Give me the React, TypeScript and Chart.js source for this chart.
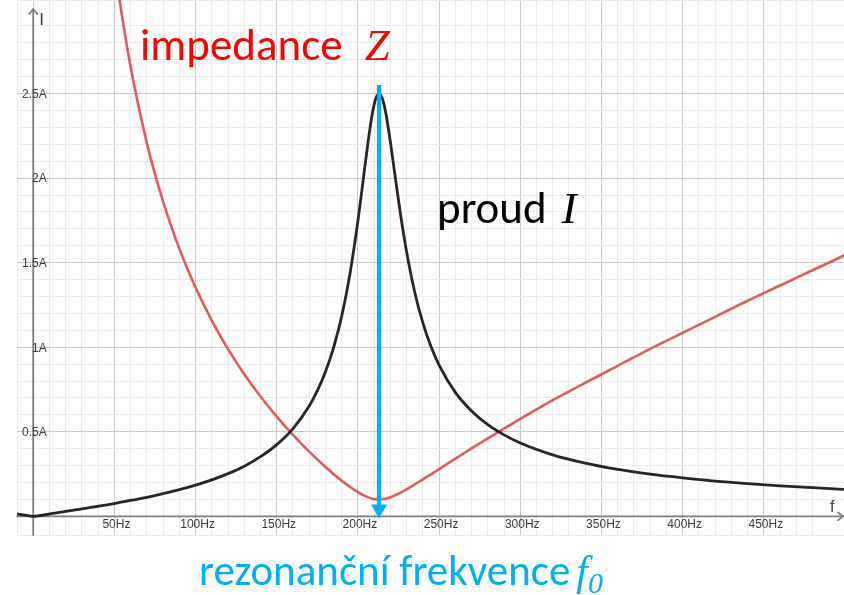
import React, { useEffect, useRef } from "react";
import { Chart, registerables } from "chart.js";

Chart.register(...registerables);

// ---------- data ----------
const freqI = [-10, -5, 0, 10, 20, 30, 40, 50, 60, 70, 80, 90, 100, 110, 120, 130, 140, 150, 160, 170, 175, 180, 185, 190, 195, 200, 203, 206, 209, 211, 213, 215, 217, 220, 223, 226, 230, 235, 240, 245, 250, 260, 270, 280, 290, 300, 320, 340, 360, 380, 400, 420, 440, 460, 480, 500];
const currentI = [0.0145, 0.0072, 0, 0.0145, 0.029, 0.044, 0.06, 0.076, 0.094, 0.113, 0.134, 0.158, 0.185, 0.216, 0.253, 0.297, 0.353, 0.424, 0.519, 0.653, 0.743, 0.855, 0.998, 1.183, 1.429, 1.747, 1.97, 2.196, 2.389, 2.471, 2.5, 2.472, 2.393, 2.213, 2.005, 1.801, 1.563, 1.325, 1.144, 1.004, 0.894, 0.733, 0.623, 0.542, 0.482, 0.434, 0.364, 0.315, 0.278, 0.25, 0.228, 0.209, 0.194, 0.181, 0.17, 0.16];

const freqZ = [45, 50, 55, 60, 70, 80, 90, 100, 110, 120, 130, 140, 150, 160, 170, 175, 180, 185, 190, 195, 200, 203, 206, 209, 211, 213, 215, 217, 220, 223, 226, 230, 235, 240, 245, 250, 260, 270, 280, 290, 300, 320, 340, 360, 380, 400, 420, 440, 460, 480, 500];
const impedanceZ = [3.675, 3.27, 2.94, 2.657, 2.207, 1.861, 1.583, 1.353, 1.158, 0.989, 0.841, 0.709, 0.59, 0.482, 0.383, 0.337, 0.292, 0.251, 0.211, 0.175, 0.143, 0.127, 0.114, 0.105, 0.101, 0.1, 0.101, 0.1045, 0.113, 0.125, 0.139, 0.16, 0.189, 0.219, 0.249, 0.28, 0.341, 0.402, 0.461, 0.519, 0.576, 0.687, 0.79, 0.89, 0.99, 1.085, 1.18, 1.275, 1.365, 1.455, 1.545];

const xTickValues = [50, 100, 150, 200, 250, 300, 350, 400, 450];
const yTickValues = [0.5, 1, 1.5, 2, 2.5];
const xAxisName = "f";
const yAxisName = "I";

const resonanceFreq = 213;
const arrowTop = 2.55;
const arrowBottom = 0;

const X_MIN = -10;
const X_MAX = 499.4;
const Y_MIN = -0.11;
const Y_MAX = 3.053;

// ---------- styles ----------
const MAJOR_GRID = "#c9c9c9";
const MINOR_GRID = "#ececec";
const AXIS_COLOR = "#7d7d7d";
const LABEL_COLOR = "#3a3a3a";
const RED = "#e05c5c";
const BLACK = "#262626";
const CYAN = "#00B0F0";

const isMultiple = (v: number, step: number) => Math.abs(v / step - Math.round(v / step)) < 1e-6;

const geoAxesPlugin = {
  id: "geoAxes",
  beforeDatasetsDraw(chart: any) {
    const { ctx, chartArea, scales } = chart;
    const x = scales.x;
    const y = scales.y;
    const x0 = x.getPixelForValue(0);
    const y0 = y.getPixelForValue(0);
    ctx.save();
    ctx.strokeStyle = AXIS_COLOR;
    ctx.lineWidth = 1.8;
    ctx.lineCap = "round";
    ctx.lineJoin = "round";
    ctx.beginPath();
    ctx.moveTo(chartArea.left, y0);
    ctx.lineTo(chartArea.right - 1, y0);
    ctx.moveTo(x0, chartArea.bottom);
    ctx.lineTo(x0, chartArea.top + 9);
    ctx.stroke();
    ctx.beginPath();
    ctx.moveTo(x0 - 4, chartArea.top + 14);
    ctx.lineTo(x0, chartArea.top + 9);
    ctx.lineTo(x0 + 4, chartArea.top + 14);
    ctx.moveTo(chartArea.right - 6, y0 - 4);
    ctx.lineTo(chartArea.right - 1, y0);
    ctx.lineTo(chartArea.right - 6, y0 + 4);
    ctx.stroke();

    ctx.fillStyle = LABEL_COLOR;
    ctx.font = '12px "Liberation Sans", Arial, sans-serif';
    ctx.textAlign = "center";
    ctx.textBaseline = "middle";
    xTickValues.forEach((v) => ctx.fillText(`${v}Hz`, x.getPixelForValue(v) + 2, y0 + 8));
    ctx.textAlign = "right";
    yTickValues.forEach((v) => ctx.fillText(`${v}A`, x0 + 13.5, y.getPixelForValue(v) + 1));

    ctx.font = '17px "Liberation Sans", Arial, sans-serif';
    ctx.textAlign = "left";
    ctx.textBaseline = "alphabetic";
    ctx.fillText(yAxisName, x0 + 6, chartArea.top + 25);
    ctx.font = '16px "Liberation Sans", Arial, sans-serif';
    ctx.fillText(xAxisName, chartArea.right - 14, y0 - 4);
    ctx.restore();
  },
  afterDatasetsDraw(chart: any) {
    const { ctx, scales } = chart;
    const xa = scales.x.getPixelForValue(resonanceFreq);
    const yt = scales.y.getPixelForValue(arrowTop);
    const yb = scales.y.getPixelForValue(arrowBottom);
    ctx.save();
    ctx.strokeStyle = CYAN;
    ctx.fillStyle = CYAN;
    ctx.lineWidth = 4.3;
    ctx.beginPath();
    ctx.moveTo(xa, yt);
    ctx.lineTo(xa, yb - 10);
    ctx.stroke();
    ctx.beginPath();
    ctx.moveTo(xa - 8, yb - 12);
    ctx.lineTo(xa + 8, yb - 12);
    ctx.lineTo(xa, yb + 2);
    ctx.closePath();
    ctx.fill();
    ctx.restore();
  },
};

function Label({ left, baseline, size, color, children }: any) {
  return (
    <div
      style={{
        position: "absolute",
        left,
        top: baseline - size * 0.887,
        fontFamily: "Carlito, Lato, 'Open Sans', sans-serif",
        fontSize: size,
        lineHeight: `${size}px`,
        color,
        whiteSpace: "nowrap",
      }}
    >
      {children}
    </div>
  );
}

const mathStyle: React.CSSProperties = {
  fontFamily: "'Liberation Serif', 'DejaVu Serif', serif",
  fontStyle: "italic",
};

export default function App() {
  const canvasRef = useRef<HTMLCanvasElement | null>(null);

  useEffect(() => {
    if (!canvasRef.current) return;
    const chart = new Chart(canvasRef.current, {
      type: "line",
      data: {
        datasets: [
          {
            label: "impedance Z",
            data: freqZ.map((f, i) => ({ x: f, y: impedanceZ[i] })),
            borderColor: RED,
            borderWidth: 2.6,
            pointRadius: 0,
            cubicInterpolationMode: "monotone",
            fill: false,
            order: 2,
          },
          {
            label: "proud I",
            data: freqI.map((f, i) => ({ x: f, y: currentI[i] })),
            borderColor: BLACK,
            borderWidth: 2.8,
            pointRadius: 0,
            cubicInterpolationMode: "monotone",
            fill: false,
            order: 1,
          },
        ],
      },
      options: {
        animation: false,
        responsive: false,
        maintainAspectRatio: false,
        layout: { padding: { left: 17, top: 0, right: 0, bottom: 60 } },
        plugins: { legend: { display: false }, tooltip: { enabled: false } },
        scales: {
          x: {
            type: "linear",
            min: X_MIN,
            max: X_MAX,
            ticks: { display: false, stepSize: 10 },
            border: { display: false },
            grid: {
              drawTicks: false,
              tickLength: 0,
              lineWidth: 1,
              color: (c: any) => (isMultiple(c.tick.value, 50) ? MAJOR_GRID : MINOR_GRID),
            },
          },
          y: {
            type: "linear",
            min: Y_MIN,
            max: Y_MAX,
            ticks: { display: false, stepSize: 0.1 },
            border: { display: false },
            grid: {
              drawTicks: false,
              tickLength: 0,
              lineWidth: 1,
              color: (c: any) => (isMultiple(c.tick.value, 0.5) ? MAJOR_GRID : MINOR_GRID),
            },
          },
        },
      },
      plugins: [geoAxesPlugin],
    });
    return () => chart.destroy();
  }, []);

  return (
    <div
      style={{
        position: "fixed",
        left: 0,
        top: 0,
        width: 844,
        height: 595,
        background: "#fff",
        overflow: "hidden",
      }}
    >
      <canvas ref={canvasRef} width={844} height={595} style={{ position: "absolute", left: 0, top: 0 }} />
      <Label left={140} baseline={62} size={45} color="#FF0000">
        impedance <span style={{ ...mathStyle, marginLeft: 12 }}>Z</span>
      </Label>
      <Label left={437} baseline={225} size={45} color="#000000">
        proud <span style={{ ...mathStyle, marginLeft: 5 }}>I</span>
      </Label>
      <Label left={199} baseline={587} size={43} color={CYAN}>
        rezonanční frekvence{" "}
        <span style={{ ...mathStyle, marginLeft: -4 }}>
          f<sub style={{ fontSize: "0.7em", verticalAlign: "-0.25em" }}>0</sub>
        </span>
      </Label>
    </div>
  );
}
